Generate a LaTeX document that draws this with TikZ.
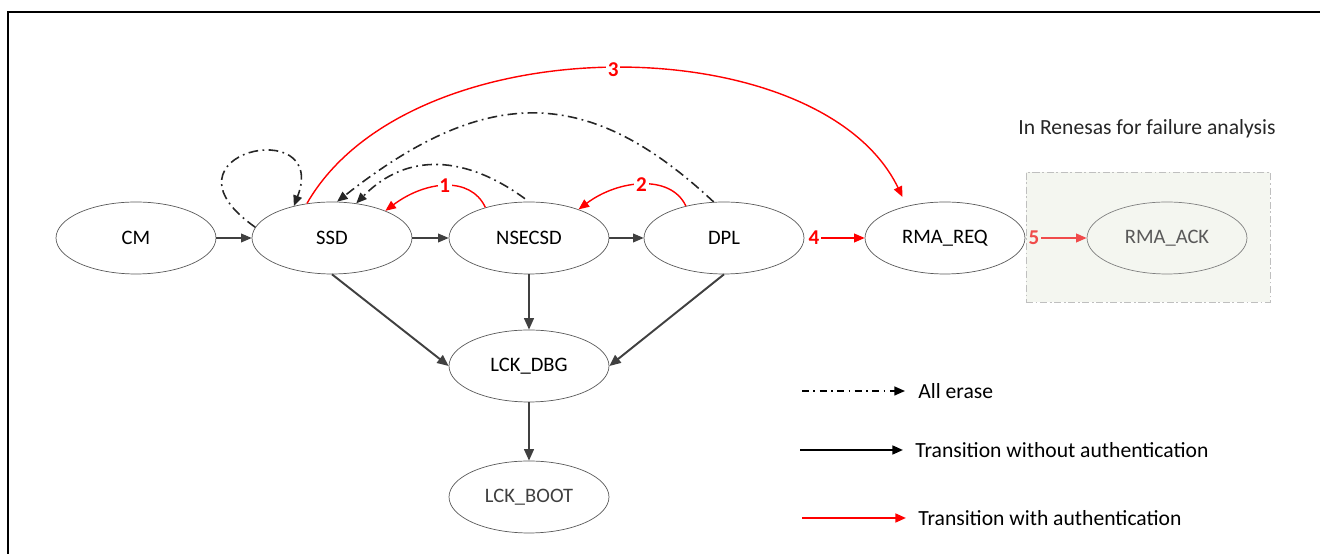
\documentclass[tikz,border=0pt]{standalone}
\usepackage{fontspec}
\setmainfont{Carlito}
\usetikzlibrary{arrows.meta,shapes.geometric}

\definecolor{edgegray}{HTML}{404040}
\definecolor{statedraw}{HTML}{5A5A5A}
\definecolor{labfill}{HTML}{F4F6F0}
\definecolor{labdraw}{HTML}{BFBFBF}
\definecolor{softred}{HTML}{F04B4B}

\begin{document}
\begin{tikzpicture}[x=0.02cm,y=0.02cm,
    state/.style={draw=statedraw,fill=white,ellipse,minimum width=3.2cm,minimum height=1.44cm,font=\fontsize{11.7}{13}\selectfont},
    plain/.style={draw=edgegray,line width=0.6pt,-{Triangle[length=6pt,width=5pt]}},
    down/.style={draw=edgegray,line width=1.1pt,-{Triangle[length=6.5pt,width=5.5pt]}},
    auth/.style={draw=red,line width=0.8pt,-{Triangle[length=6pt,width=5pt]}},
    erase/.style={draw=black!85,line width=0.9pt,dash pattern=on 5.5pt off 2.5pt on 1pt off 2.5pt,-{Triangle[length=6pt,width=5pt]}},
    num/.style={text=red,fill=white,inner sep=1pt,font=\fontsize{12}{14}\selectfont\bfseries},
    legend/.style={anchor=west,inner sep=0pt,font=\fontsize{12.3}{14}\selectfont}]
        \useasboundingbox (0,0) rectangle (1320,554);
        %% Frame
        \draw[line width=1.2pt] (8,0) -- (8,542) -- (1320,542);
        %% Failure analysis area
        \node[draw=labdraw,fill=labfill,dash pattern=on 4pt off 1.5pt on 1pt off 1.5pt,minimum width=4.88cm,minimum height=2.6cm] (lab) at (1148,317) {};
        \node[font=\fontsize{12.3}{14}\selectfont,text=black!85] (labtitle) at (1147,425) {In Renesas for failure analysis};
        %% States
        \node[state] (CM) at (136,316) {CM};
        \node[state] (SSD) at (332,316) {SSD};
        \node[state] (NSECSD) at (529,316) {NSECSD};
        \node[state] (DPL) at (724,316) {DPL};
        \node[state] (RMAREQ) at (945,316) {RMA\_REQ};
        \node[state,draw=black!50,text=black!65,fill=labfill] (RMAACK) at (1167,316) {RMA\_ACK};
        \node[state] (LCKDBG) at (529,188) {LCK\_DBG};
        \node[state,text=black!75] (LCKBOOT) at (529,57) {LCK\_BOOT};
        %% Transitions without authentication
        \draw[plain] (CM) -- (SSD);
        \draw[plain] (SSD) -- (NSECSD);
        \draw[plain] (NSECSD) -- (DPL);
        \draw[down] (SSD.south) -- (LCKDBG.west);
        \draw[down] (NSECSD) -- (LCKDBG);
        \draw[down] (DPL.south) -- (LCKDBG.east);
        \draw[down] (LCKDBG) -- (LCKBOOT);
        %% All erase
        \draw[erase] (SSD.172) .. controls +(-106,74) and +(36,93) .. (SSD.140);
        \draw[erase,shorten <=0.1cm] (NSECSD.north) .. controls +(-63,46) and +(51,52) .. (SSD.55);
        \draw[erase] (DPL.106) .. controls +(-124,116) and +(151,119) .. (SSD.82);
        %% Transitions with authentication
        \draw[auth] (NSECSD.145) .. controls +(-15,32) and +(40,30) .. node[num] {1} (SSD.27);
        \draw[auth] (DPL.140) .. controls +(-15,32) and +(40,30) .. node[num] {2} (NSECSD.30);
        \draw[auth,shorten >=0.2cm] (SSD.126) .. controls +(104,181) and +(-87,180) .. node[num] {3} (RMAREQ.140);
        \node[num] (n4) at (814,316) {4};
        \draw[auth] (n4) -- (RMAREQ);
        \node[num,text=softred,fill=labfill] (n5) at (1034,316) {5};
        \draw[auth,draw=softred,-{Triangle[length=6pt,width=5pt,fill=softred]}] (n5) -- (RMAACK);
        %% Legend
        \coordinate (ea) at (802,163);
        \coordinate (eb) at (905,163);
        \draw[erase,draw=black,dash pattern=on 4pt off 2.5pt on 1pt off 2.5pt] (ea) -- (eb);
        \node[legend] (erasetext) at (918,163) {All erase};
        \coordinate (pa) at (800,104);
        \coordinate (pb) at (903,104);
        \draw[plain,draw=black,line width=1.2pt] (pa) -- (pb);
        \node[legend] (plaintext) at (915,104) {Transition without authentication};
        \coordinate (aa) at (802,36);
        \coordinate (ab) at (906,36);
        \draw[auth,line width=1.2pt] (aa) -- (ab);
        \node[legend] (authtext) at (918,36) {Transition with authentication};
    \end{tikzpicture}
\end{document}
